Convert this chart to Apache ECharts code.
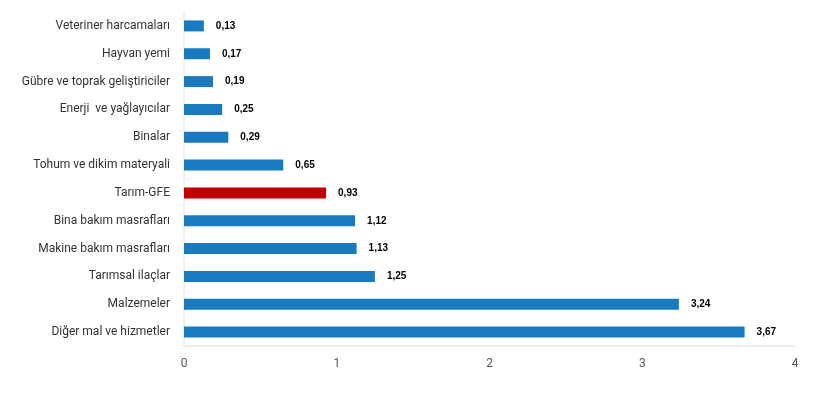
<!DOCTYPE html>
<html><head><meta charset="utf-8">
<script src="https://cdn.jsdelivr.net/npm/echarts@6/dist/echarts.min.js"></script>
<style>html,body{margin:0;padding:0;background:#fff}#c{width:820px;height:393px}</style>
</head><body><div id="c"></div>
<script>
const categories = ["Veteriner harcamaları","Hayvan yemi","Gübre ve toprak geliştiriciler","Enerji  ve yağlayıcılar","Binalar","Tohum ve dikim materyali","Tarım-GFE","Bina bakım masrafları","Makine bakım masrafları","Tarımsal ilaçlar","Malzemeler","Diğer mal ve hizmetler"];
const values = [0.13,0.17,0.19,0.25,0.29,0.65,0.93,1.12,1.13,1.25,3.24,3.67];
const highlight = "Tarım-GFE";
const chart = echarts.init(document.getElementById('c'));
chart.setOption({
  animation:false,
  grid:{left:184,right:25,top:12,bottom:47,containLabel:false},
  xAxis:{type:'value',min:0,max:4,interval:1,
    axisLine:{show:true,lineStyle:{color:'#eeeeee',width:2}},
    axisTick:{show:false},splitLine:{show:false},
    axisLabel:{color:'#555',fontSize:12,margin:12,fontFamily:'Roboto'}},
  yAxis:{type:'category',data:categories,inverse:true,
    axisLine:{show:true,lineStyle:{color:'#eeeeee',width:2}},
    axisTick:{show:false},
    axisLabel:{color:'#333',fontSize:12,margin:14,fontFamily:'Roboto'}},
  series:[{type:'bar',barWidth:11,
    data:values.map((v,i)=>({value:v,itemStyle:{color:categories[i]===highlight?'#c00000':'#1a7abf'}})),
    label:{show:true,position:'right',distance:12,color:'#000',fontWeight:'bold',fontSize:10,fontFamily:'Arial',
      formatter:p=>p.value.toFixed(2).replace('.',',')}}]
});
</script></body></html>
